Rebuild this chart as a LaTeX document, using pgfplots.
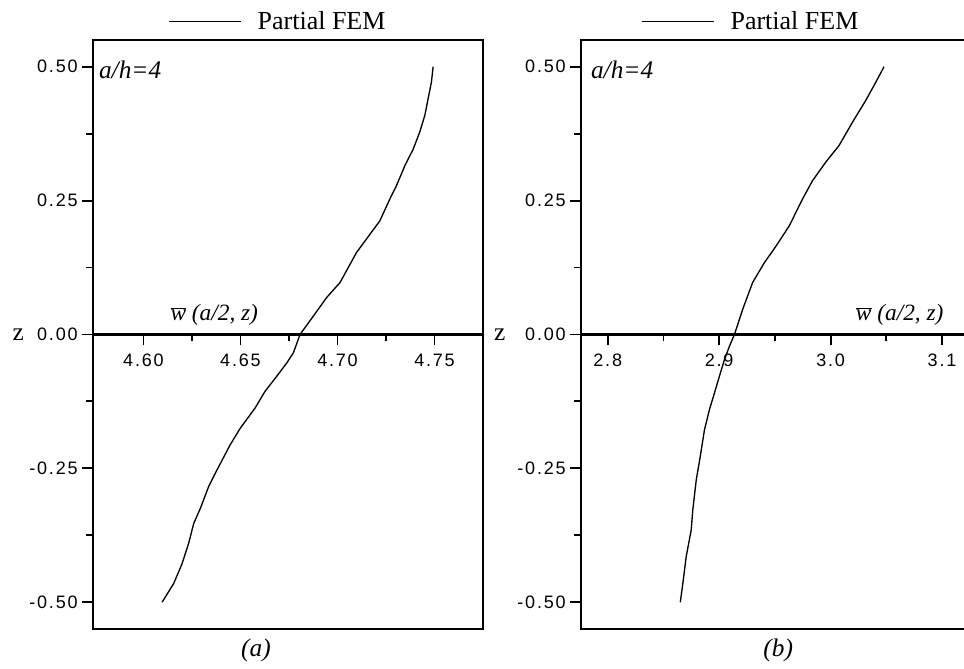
\documentclass[border=0pt]{standalone}
\usepackage{fontspec}
\setmainfont{Liberation Serif}
\newfontfamily\tickfont[LetterSpace=10]{Liberation Sans}
\usepackage{pgfplots}
\pgfplotsset{compat=1.18}

\pgfplotsset{
  panel/.style={
    scale only axis, clip=false,
    height=441.75pt,
    ymin=-0.55, ymax=0.55,
    axis x line*=middle, axis y line*=left,
    axis line style={-, line width=1.8pt},
    ytick={-0.5,-0.25,0,0.25,0.5},
    minor x tick num=1, minor y tick num=1,
    tick align=outside,
    major tick length=8pt, minor tick length=5pt,
    every tick/.style={black, line width=1.4pt},
    tick label style={font=\tickfont\fontsize{13.5}{14}\selectfont},
    /pgf/number format/assume math mode=true,
    yticklabel style={/pgf/number format/.cd, fixed, zerofill, precision=2},
    xticklabel style={yshift=-3pt},
    legend style={draw=none, fill=none, anchor=south,
      font=\fontsize{19.5}{20}\selectfont},
    legend image code/.code={\draw[#1] (0pt,0pt) -- (54pt,0pt); \path (64pt,0pt);},
  },
  curve/.style={black, line width=1pt},
}

\begin{document}
\begin{tikzpicture}
\path[use as bounding box] (0,0) rectangle (723pt,501pt);

% panel (a)
\begin{axis}[panel,
  at={(69.75pt,29.25pt)}, anchor=south west, width=292.5pt,
  xmin=4.574, xmax=4.775,
  xtick={4.60,4.65,4.70,4.75},
  xticklabel style={/pgf/number format/.cd, fixed, zerofill, precision=2},
  legend style={at={(0.475,1)}, yshift=2pt},
]
  \addplot[curve] coordinates {
    (4.6096,-0.500)(4.6156,-0.465)(4.6199,-0.428)(4.6233,-0.390)
    (4.6259,-0.353)(4.6293,-0.325)(4.6336,-0.284)(4.6379,-0.253)
    (4.6447,-0.206)(4.6499,-0.175)(4.6576,-0.137)(4.6627,-0.106)
    (4.6687,-0.078)(4.6739,-0.053)(4.6773,-0.034)(4.6807,0.000)
    (4.6875,0.034)(4.6944,0.069)(4.7013,0.097)(4.7098,0.153)
    (4.7167,0.187)(4.7218,0.212)(4.7270,0.253)(4.7304,0.278)
    (4.7347,0.315)(4.7390,0.346)(4.7424,0.378)(4.7450,0.409)
    (4.7467,0.440)(4.7484,0.471)(4.7493,0.500)
  };
  \addlegendentry{Partial FEM}
  \draw[line width=1.8pt] (rel axis cs:0,0) rectangle (rel axis cs:1,1);
  \node[anchor=north west, font=\fontsize{19}{20}\selectfont\itshape]
    at ([xshift=1pt,yshift=-12pt]rel axis cs:0,1) {a/h=4};
  \node[anchor=south, font=\fontsize{17.5}{18}\selectfont\itshape]
    at (axis cs:4.6365,0.008) {$\overline{\mbox{\itshape w}}$ (a/2, z)};
  \node[font=\fontsize{19}{20}\selectfont]
    at ([xshift=-56pt]axis cs:4.574,0) {z};
  \node[font=\fontsize{19}{20}\selectfont\itshape]
    at (axis cs:4.658,-0.59) {(a)};
\end{axis}

% panel (b)
\begin{axis}[panel,
  at={(435.75pt,29.25pt)}, anchor=south west, width=290pt,
  xmin=2.776, xmax=3.123,
  xtick={2.8,2.9,3.0,3.1},
  xticklabel style={/pgf/number format/.cd, fixed, zerofill, precision=1},
  legend style={at={(0.44,1)}, yshift=2pt},
]
  \addplot[curve] coordinates {
    (2.8651,-0.500)(2.8674,-0.465)(2.8704,-0.415)(2.8749,-0.365)
    (2.8763,-0.328)(2.8794,-0.272)(2.8830,-0.228)(2.8868,-0.178)
    (2.8913,-0.140)(2.8958,-0.109)(2.9002,-0.078)(2.9047,-0.047)
    (2.9092,-0.022)(2.9137,0.000)(2.9211,0.047)(2.9300,0.097)
    (2.9405,0.134)(2.9510,0.165)(2.9629,0.203)(2.9748,0.253)
    (2.9837,0.287)(2.9957,0.322)(3.0076,0.353)(3.0195,0.396)
    (3.0315,0.437)(3.0405,0.471)(3.0479,0.500)
  };
  \addlegendentry{Partial FEM}
  \draw[line width=1.8pt] (rel axis cs:0,0) rectangle (rel axis cs:1,1);
  \node[anchor=north west, font=\fontsize{19}{20}\selectfont\itshape]
    at ([xshift=4pt,yshift=-12pt]rel axis cs:0,1) {a/h=4};
  \node[anchor=south, font=\fontsize{17.5}{18}\selectfont\itshape]
    at (axis cs:3.062,0.008) {$\overline{\mbox{\itshape w}}$ (a/2, z)};
  \node[font=\fontsize{19}{20}\selectfont]
    at ([xshift=-61pt]axis cs:2.776,0) {z};
  \node[font=\fontsize{19}{20}\selectfont\itshape]
    at (axis cs:2.953,-0.59) {(b)};
\end{axis}
\end{tikzpicture}
\end{document}
